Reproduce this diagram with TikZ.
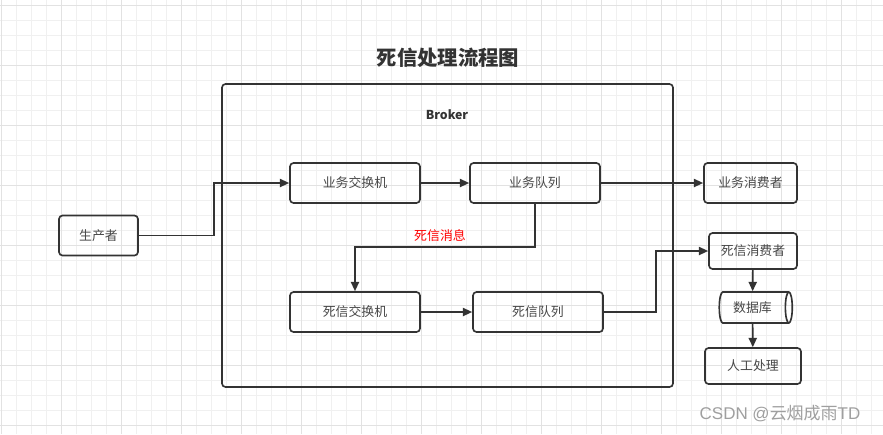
\documentclass[tikz,border=0pt]{standalone}
\usepackage{fontspec}
\setmainfont{Noto Sans CJK SC}
\newfontfamily\markfont{Liberation Sans}
\usetikzlibrary{arrows.meta,shapes.geometric}

\definecolor{gridminor}{HTML}{F0F0F0}
\definecolor{gridmajor}{HTML}{E2E2E2}
\definecolor{linegray}{HTML}{333333}

\tikzset{
	box/.style={draw=linegray, line width=1.4pt, rounded corners=3pt, minimum height=1.2cm, font=\fontsize{11}{13}\selectfont, text=linegray!90},
	flow/.style={draw=linegray, line width=1.4pt, -{Triangle[length=8pt,width=7pt]}},
}

\begin{document}
\begin{tikzpicture}[x=0.03cm, y=-0.03cm]
	
	% 画布与背景网格
	\useasboundingbox (0,0) rectangle (883,434);
	\fill[white] (0,0) rectangle (883,434);
	\foreach \x in {1,16,...,883} \draw[gridminor, line width=0.6pt] (\x,0) -- (\x,434);
	\foreach \y in {5,20,...,434} \draw[gridminor, line width=0.6pt] (0,\y) -- (883,\y);
	\foreach \x in {1,61,...,883} \draw[gridmajor, line width=0.6pt] (\x,0) -- (\x,434);
	\foreach \y in {5,65,...,434} \draw[gridmajor, line width=0.6pt] (0,\y) -- (883,\y);
	
	% 标题
	\node[font=\fontsize{17.4}{20}\selectfont\bfseries, text=linegray] (title) at (448,58) {死信处理流程图};
	
	% Broker 容器
	\node[draw=linegray, line width=1.4pt, rounded corners=3pt, minimum width=451*0.03cm, minimum height=303*0.03cm] (broker) at (447.5,235.5) {};
	\node[font=\fontsize{10.5}{12}\selectfont\bfseries, text=linegray] (brokername) at (447,115) {Broker};
	
	% 各个节点
	\node[box, minimum width=130*0.03cm] (bizex) at (355,183) {业务交换机};
	\node[box, minimum width=130*0.03cm] (bizq) at (535,183) {业务队列};
	\node[box, minimum width=130*0.03cm] (dlx) at (355,312) {死信交换机};
	\node[box, minimum width=130*0.03cm] (dlq) at (538,312) {死信队列};
	\node[box, minimum width=79*0.03cm] (producer) at (98.5,235.5) {生产者};
	\node[box, minimum width=93*0.03cm] (bizcons) at (750.5,183) {业务消费者};
	\node[box, minimum width=88*0.03cm, minimum height=36*0.03cm] (dlcons) at (753,251) {死信消费者};
	\node[draw=linegray, line width=1.4pt, cylinder, shape aspect=0.35, minimum width=31*0.03cm, minimum height=73*0.03cm, font=\fontsize{11}{13}\selectfont, text=linegray!90] (db) at (752.5,307.5) {数据库\hspace{8pt}};
	\node[box, minimum width=96*0.03cm, minimum height=36*0.03cm] (manual) at (753,366) {人工处理};
	
	% 连线
	\draw[flow] (producer.east) -- (214,235.5) |- (bizex.west);
	\draw[flow] (bizex) -- (bizq);
	\draw[flow] (bizq) -- (bizcons);
	\draw[flow] (bizq.south) -- (535,247) -| (dlx.north);
	\draw[flow] (dlx) -- (dlq);
	\draw[flow] (dlq.east) -- (656,312) |- (dlcons.west);
	\draw[flow] (dlcons) -- (db);
	\draw[flow] (db) -- (manual);
	
	% 死信消息标注
	\node[text=red, font=\fontsize{11}{13}\selectfont] (dlmsg) at (440,236) {死信消息};
	
	% 水印
	\node[text=gray!75, font=\fontsize{14.5}{16}\selectfont, inner sep=0pt] (mark) at (780,414) {{\markfont CSDN @}云烟成雨{\markfont TD}};
	
\end{tikzpicture}
\end{document}
